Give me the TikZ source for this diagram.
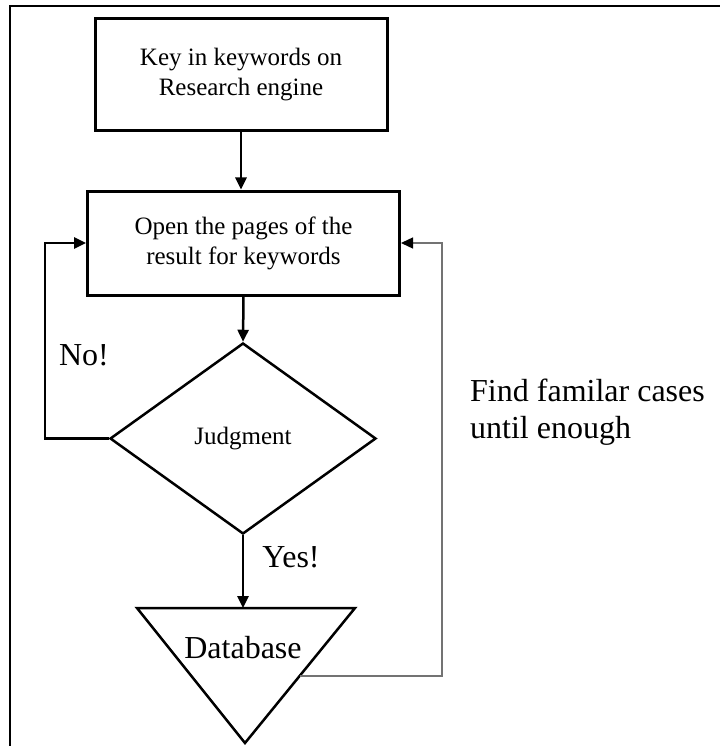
\documentclass[tikz,border=0pt]{standalone}
\usepackage{fontspec}
\setmainfont{Liberation Serif}
\usetikzlibrary{arrows.meta,shapes.geometric,calc}
\begin{document}
\begin{tikzpicture}[x=1pt,y=-1pt,
  boxtext/.style={font=\fontsize{25}{30}\selectfont},
  bigtext/.style={font=\fontsize{32}{37}\selectfont},
  stepbox/.style={draw,line width=3pt,inner sep=0pt,align=center,boxtext},
  decision/.style={draw,diamond,line width=2.5pt,inner sep=0pt,boxtext},
  flow/.style={line width=2.5pt,-{Triangle[length=12pt,width=11pt]}},
  backflow/.style={line width=1.4pt,draw=black!55,-{Triangle[length=12pt,width=11pt,color=black]}}]
  \useasboundingbox (0,0) rectangle (720,746);
  % page frame (top and left edges only)
  \draw[line width=2.5pt] (10,746) -- (10,6) -- (720,6);

  % process boxes
  \node[stepbox,minimum width=292pt,minimum height=112pt] (key) at (241,75)
    {Key in keywords on\\Research engine};
  \node[stepbox,minimum width=312pt,minimum height=104pt] (open) at (243.5,243)
    {Open the pages of the\\result for keywords};

  % decision
  \node[decision,minimum width=266pt,minimum height=191pt] (judge) at (243,438.5) {Judgment};

  % database (downward triangle)
  \coordinate (dbL) at (137,608);
  \coordinate (dbR) at (355,608);
  \coordinate (dbB) at (245,743);
  \draw[line width=2.5pt,line join=miter] (dbL) -- (dbR) -- (dbB) -- cycle;
  \node[bigtext,inner sep=0pt] (db) at (243,648) {Database};
  \coordinate (dbexit) at ($(dbR)!0.504!(dbB)$);

  % connectors
  \draw[flow] (key.south) -- (key.south |- open.north);
  \draw[flow] (open.south) -- (judge.north);
  \draw[flow] (judge.south) -- (judge.south |- dbL);
  \coordinate (noX) at (45,0);
  \draw[flow] (judge.west) -- (judge.west -| noX) |- (open.west);
  \coordinate (backX) at (442,0);
  \draw[backflow] (dbexit) -| (backX |- open.east) -- (open.east);

  % labels
  \node[bigtext,inner sep=0pt] (nolabel) at (84,355) {No!};
  \node[bigtext,inner sep=0pt] (yeslabel) at (291,557) {Yes!};
  \node[bigtext,inner sep=0pt,align=left,anchor=west] (findlabel) at (470,412)
    {Find familar cases\\until enough};
\end{tikzpicture}
\end{document}
